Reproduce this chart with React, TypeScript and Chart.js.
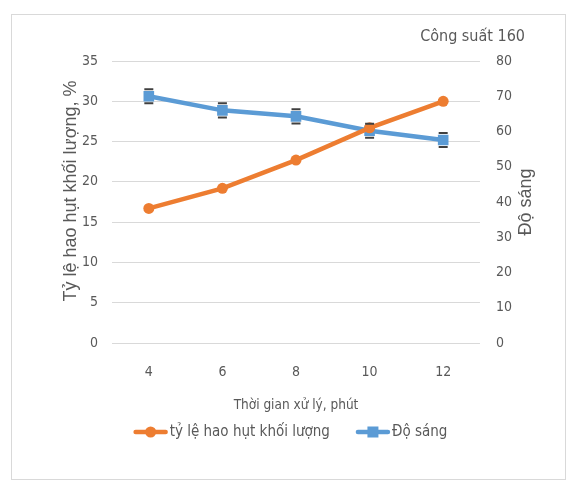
import React, { useEffect, useRef } from "react";
import { Chart, registerables } from "chart.js";

Chart.register(...registerables);

const categories = ["4", "6", "8", "10", "12"];
const lossRate = [16.7, 19.2, 22.7, 26.7, 30.0];
const brightness = [70.0, 66.0, 64.3, 60.2, 57.6];
const brightnessErr = [2.0, 2.0, 2.0, 2.0, 2.0];
const seriesNames = ["tỷ lệ hao hụt khối lượng", "Độ sáng"];
const leftAxisTitle = "Tỷ lệ hao hụt khối lượng, %";
const rightAxisTitle = "Độ sáng";
const xAxisTitle = "Thời gian xử lý, phút";
const chartTitle = "Công suất 160";

const GRAY = "#595959";
const ORANGE = "#ED7D31";
const BLUE = "#5B9BD5";
const NARROW = "'Liberation Sans Narrow', 'DejaVu Sans Condensed', 'Liberation Sans', Arial, sans-serif";
const WIDE = "'Liberation Sans', Arial, sans-serif";

const titlePlugin = {
  id: "cornerTitle",
  afterDraw(chart: any) {
    const ctx = chart.ctx;
    const a = chart.chartArea;
    ctx.save();
    ctx.font = `16px ${NARROW}`;
    ctx.fillStyle = GRAY;
    ctx.textAlign = "right";
    ctx.textBaseline = "middle";
    ctx.fillText(chartTitle, a.right + 45, 37);

    // vertical axis titles (both read bottom-to-top)
    ctx.font = `18px ${WIDE}`;
    ctx.textAlign = "center";
    const midY = (a.top + a.bottom) / 2;
    ctx.save();
    ctx.translate(a.left - 41, midY - 11);
    ctx.rotate(-Math.PI / 2);
    ctx.fillText(leftAxisTitle, 0, 0);
    ctx.restore();
    ctx.save();
    ctx.translate(a.right + 46, midY);
    ctx.rotate(-Math.PI / 2);
    ctx.fillText(rightAxisTitle, 0, 0);
    ctx.restore();
    ctx.restore();
  },
};

const legendPlugin = {
  id: "lineMarkerLegend",
  afterDraw(chart: any) {
    const ctx = chart.ctx;
    const colors = [ORANGE, BLUE];
    const iconW = 34;
    const gapIcon = 2;
    const gapItem = 26;
    const y = 432;
    ctx.save();
    ctx.font = `15px ${NARROW}`;
    const widths = seriesNames.map((n) => ctx.measureText(n).width);
    const total = widths.reduce((a, w) => a + iconW + gapIcon + w, 0) + gapItem * (seriesNames.length - 1);
    let x = 290.5 - total / 2;
    seriesNames.forEach((name, i) => {
      const c = colors[i];
      ctx.strokeStyle = c;
      ctx.fillStyle = c;
      ctx.lineWidth = 4.5;
      ctx.lineCap = "round";
      ctx.beginPath();
      ctx.moveTo(x + 2, y);
      ctx.lineTo(x + iconW - 2, y);
      ctx.stroke();
      const cx = x + iconW / 2;
      if (i === 0) {
        ctx.beginPath();
        ctx.arc(cx, y, 5.5, 0, Math.PI * 2);
        ctx.fill();
      } else {
        ctx.fillRect(cx - 5.5, y - 5.5, 11, 11);
      }
      x += iconW + gapIcon;
      ctx.fillStyle = GRAY;
      ctx.textAlign = "left";
      ctx.textBaseline = "middle";
      ctx.fillText(name, x, y);
      x += widths[i] + gapItem;
    });
    ctx.restore();
  },
};

const errorBarPlugin = {
  id: "errorBars",
  afterDatasetsDraw(chart: any) {
    const ctx = chart.ctx;
    const meta = chart.getDatasetMeta(1);
    const yScale = chart.scales.y1;
    ctx.save();
    ctx.strokeStyle = "#404040";
    ctx.lineWidth = 2;
    meta.data.forEach((pt: any, i: number) => {
      const v = brightness[i];
      const e = brightnessErr[i];
      const top = yScale.getPixelForValue(v + e);
      const bot = yScale.getPixelForValue(v - e);
      ctx.beginPath();
      ctx.moveTo(pt.x - 4.5, top);
      ctx.lineTo(pt.x + 4.5, top);
      ctx.moveTo(pt.x - 4.5, bot);
      ctx.lineTo(pt.x + 4.5, bot);
      ctx.stroke();
    });
    ctx.restore();
  },
};

export default function App() {
  const ref = useRef<HTMLCanvasElement | null>(null);
  useEffect(() => {
    if (!ref.current) return;
    const chart = new Chart(ref.current, {
      type: "line",
      data: {
        labels: categories,
        datasets: [
          {
            label: seriesNames[0],
            data: lossRate,
            borderColor: ORANGE,
            backgroundColor: ORANGE,
            borderWidth: 4.5,
            pointStyle: "circle",
            pointRadius: 5.5,
            pointBorderWidth: 0,
            yAxisID: "y",
          },
          {
            label: seriesNames[1],
            data: brightness,
            borderColor: BLUE,
            backgroundColor: BLUE,
            borderWidth: 4.5,
            pointStyle: "rect",
            pointRadius: 7.5,
            pointBorderWidth: 0,
            yAxisID: "y1",
          },
        ],
      },
      plugins: [titlePlugin, errorBarPlugin, legendPlugin],
      options: {
        animation: false,
        responsive: false,
        maintainAspectRatio: false,
        layout: { padding: { left: 68, right: 44, top: 61, bottom: 73 } },
        plugins: {
          tooltip: { enabled: false },
          title: { display: false },
          legend: { display: false },
        },
        scales: {
          x: {
            offset: true,
            grid: { display: false },
            border: { display: false },
            ticks: { color: GRAY, font: { family: NARROW, size: 14 }, padding: 13 },
            title: {
              display: true,
              text: xAxisTitle,
              color: GRAY,
              font: { family: NARROW, size: 13.5 },
              padding: { top: 4, bottom: 0 },
            },
          },
          y: {
            position: "left",
            min: 0,
            max: 35,
            ticks: { stepSize: 5, color: GRAY, font: { family: NARROW, size: 14 }, padding: 14 },
            grid: { color: "#d9d9d9", lineWidth: 1, drawTicks: false },
            border: { display: false },
            title: { display: false },
          },
          y1: {
            position: "right",
            min: 0,
            max: 80,
            ticks: { stepSize: 10, color: GRAY, font: { family: NARROW, size: 14 }, padding: 16 },
            grid: { display: false, drawTicks: false },
            border: { display: false },
            title: { display: false },
          },
        },
      },
    });
    return () => chart.destroy();
  }, []);

  return (
    <div style={{ position: "absolute", left: 0, top: 0, width: 572, height: 487, background: "#fff" }}>
      <div
        style={{
          position: "absolute",
          left: 11,
          top: 14,
          width: 555,
          height: 466,
          border: "1px solid #d9d9d9",
          boxSizing: "border-box",
        }}
      />
      <canvas ref={ref} width={572} height={487} style={{ position: "absolute", left: 0, top: 0 }} />
    </div>
  );
}
